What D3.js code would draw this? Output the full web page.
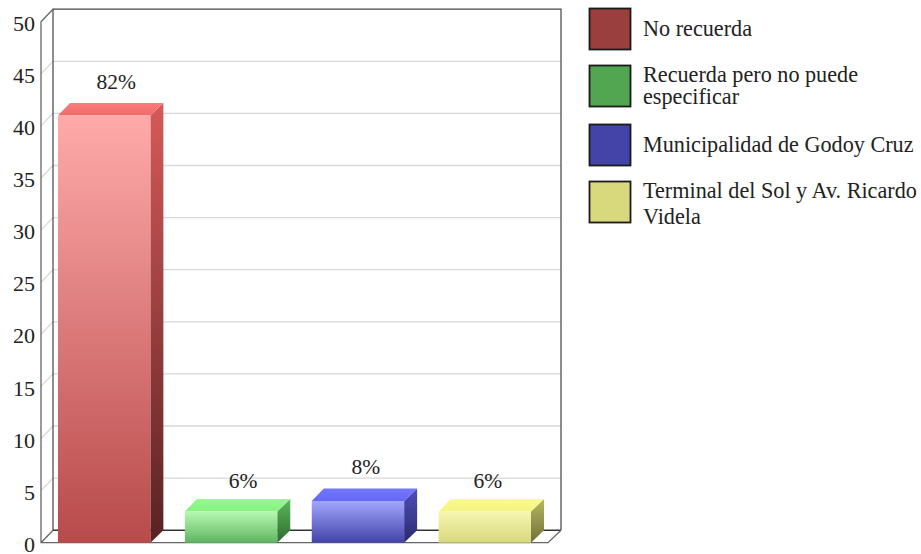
<!DOCTYPE html>
<html>
<head>
<meta charset="utf-8">
<script src="https://cdnjs.cloudflare.com/ajax/libs/d3/7.8.5/d3.min.js"></script>
<style>
html, body { margin: 0; padding: 0; background: #fff; }
svg { display: block; }
text { font-family: "Liberation Serif", serif; fill: #222; }
</style>
</head>
<body>
<svg id="chart" width="921" height="554"></svg>
<script>
var categories = ["No recuerda", "Recuerda pero no puede especificar", "Municipalidad de Godoy Cruz", "Terminal del Sol y Av. Ricardo Videla"];
var values = [41, 3, 4, 3];
var pctLabels = ["82%", "6%", "8%", "6%"];
var yTicks = [0, 5, 10, 15, 20, 25, 30, 35, 40, 45, 50];
var legendLines = [["No recuerda"], ["Recuerda pero no puede", "especificar"], ["Municipalidad de Godoy Cruz"], ["Terminal del Sol y Av. Ricardo", "Videla"]];

// front, top, side gradients and the legend colour for each bar
var frontTop = ["#ffaaaa", "#b6fab2", "#a2a6ff", "#f6f6b2"];
var frontBottom = ["#b84a4a", "#5fb55f", "#4343a8", "#d8d87c"];
var sideTop = ["#d65a5a", "#5cb85c", "#4e4eb8", "#b8b860"];
var sideBottom = ["#592222", "#2f6b2f", "#2a2a70", "#70703a"];
var topFrom = ["#ff7c7c", "#94fb8e", "#7478ff", "#fbfb8c"];
var topTo = ["#ee6a6a", "#88f184", "#6468f4", "#f4f484"];
var legendColors = ["#9a3e3e", "#52a652", "#4343a8", "#d8d87c"];
var legendY = [8, 65, 124, 181];
// the percent labels do not sit at the same place over each bar
var labelDx = [12, 12, 8, 3];
var labelDy = [-26, -23, -27, -23];

var dx = 12, dy = 12.5;
var svg = d3.select("#chart");
var y = d3.scaleLinear().domain([0, 50]).range([542.7, 21.7]);
var x = d3.scaleBand().domain(categories).range([41, 548]).paddingInner(0.272).paddingOuter(0.134);

var defs = svg.append("defs");
function grad(id, c1, c2) {
    var g = defs.append("linearGradient").attr("id", id).attr("x1", 0).attr("y1", 0).attr("x2", 0).attr("y2", 1);
    g.append("stop").attr("offset", "0%").attr("stop-color", c1);
    g.append("stop").attr("offset", "100%").attr("stop-color", c2);
}
categories.forEach(function(c, i) {
    grad("front" + i, frontTop[i], frontBottom[i]);
    grad("side" + i, sideTop[i], sideBottom[i]);
    grad("top" + i, topFrom[i], topTo[i]);
});

// back wall grid and the slanted bits on the left wall
svg.selectAll(".grid").data(yTicks.filter(function(d) { return d > 0 && d < 50; }))
    .enter().append("path")
    .attr("fill", "none").attr("stroke", "#d8d8d8").attr("stroke-width", 1.3)
    .attr("d", function(d) {
        var p = d3.path();
        p.moveTo(41, y(d));
        p.lineTo(41 + dx, y(d) - dy);
        p.lineTo(561, y(d) - dy);
        return p.toString();
    });

// walls
var frame = d3.path();
frame.moveTo(53, y(0) - dy); frame.lineTo(53, y(50) - dy); frame.lineTo(561, y(50) - dy); frame.lineTo(561, y(0) - dy);
svg.append("path").attr("d", frame.toString()).attr("fill", "none").attr("stroke", "#444").attr("stroke-width", 1.2);

var floorBack = d3.path();
floorBack.moveTo(53, y(0) - dy); floorBack.lineTo(561, y(0) - dy);
svg.append("path").attr("d", floorBack.toString()).attr("fill", "none").attr("stroke", "#333").attr("stroke-width", 1.5);

var outline = d3.path();
outline.moveTo(53, y(50) - dy); outline.lineTo(41, y(50)); outline.lineTo(41, y(0)); outline.lineTo(548, y(0)); outline.lineTo(561, y(0) - dy);
outline.moveTo(41, y(0)); outline.lineTo(53, y(0) - dy);
svg.append("path").attr("d", outline.toString()).attr("fill", "none").attr("stroke", "#666").attr("stroke-width", 1.3);

// bars
var bars = svg.selectAll(".bar").data(categories).enter().append("g");
bars.append("path").attr("fill", function(d, i) { return "url(#side" + i + ")"; })
    .attr("d", function(d, i) {
        var r = x(d) + x.bandwidth(), p = d3.path();
        p.moveTo(r, y(values[i])); p.lineTo(r + dx + 1, y(values[i]) - dy);
        p.lineTo(r + dx + 1, y(0) - dy); p.lineTo(r, y(0)); p.closePath();
        return p.toString();
    });
bars.append("path").attr("fill", function(d, i) { return "url(#top" + i + ")"; })
    .attr("d", function(d, i) {
        var l = x(d), r = l + x.bandwidth(), t = y(values[i]), p = d3.path();
        p.moveTo(l, t); p.lineTo(l + dx, t - dy); p.lineTo(r + dx + 1, t - dy); p.lineTo(r, t); p.closePath();
        return p.toString();
    });
bars.append("rect").attr("fill", function(d, i) { return "url(#front" + i + ")"; })
    .attr("x", function(d) { return x(d); })
    .attr("width", x.bandwidth())
    .attr("y", function(d, i) { return y(values[i]); })
    .attr("height", function(d, i) { return y(0) - y(values[i]); });

// value labels
svg.selectAll(".pct").data(categories).enter().append("text")
    .attr("text-anchor", "middle").attr("font-size", 21.5)
    .attr("x", function(d, i) { return x(d) + x.bandwidth() / 2 + labelDx[i]; })
    .attr("y", function(d, i) { return y(values[i]) + labelDy[i]; })
    .text(function(d, i) { return pctLabels[i]; });

// y axis labels
var yAxis = d3.axisLeft(y).tickValues(yTicks).tickSize(0).tickPadding(0);
var axisG = svg.append("g").attr("transform", "translate(35,0)").call(yAxis);
axisG.select(".domain").remove();
axisG.attr("font-family", null).attr("font-size", 22);
axisG.selectAll("text").attr("dy", null).attr("y", 8.6);

// legend
var legend = svg.selectAll(".leg").data(categories).enter().append("g");
legend.append("rect")
    .attr("x", 589.5).attr("width", 41).attr("height", 41)
    .attr("y", function(d, i) { return legendY[i] + 0.5; })
    .attr("fill", function(d, i) { return legendColors[i]; })
    .attr("stroke", "#1a1a1a").attr("stroke-width", 1.8);
legend.each(function(d, i) {
    var lines = legendLines[i], top = lines.length > 1 ? legendY[i] + 17 : legendY[i] + 28;
    var gap = i === 1 ? 22 : 26;
    d3.select(this).selectAll("text").data(lines).enter().append("text")
        .attr("x", 643).attr("font-size", 22.2)
        .attr("y", function(l, k) { return top + k * gap; })
        .text(function(l) { return l; });
});
</script>
</body>
</html>
